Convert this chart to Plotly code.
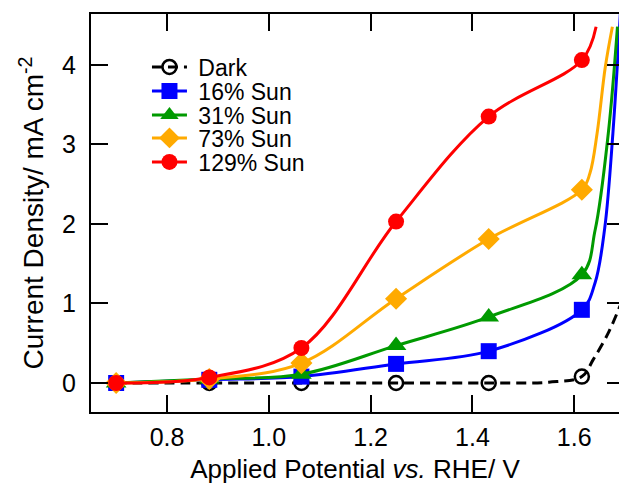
import plotly.graph_objects as go

# ---- data ----
x_pts = [0.700, 0.883, 1.064, 1.250, 1.432, 1.615]
dark_y = [0.0, 0.0, 0.0, 0.0, 0.0, 0.08]
sun16_y = [0.0, 0.04, 0.08, 0.24, 0.40, 0.92]
sun31_y = [0.0, 0.05, 0.11, 0.47, 0.83, 1.36]
sun73_y = [0.0, 0.05, 0.25, 1.06, 1.81, 2.43]
sun129_y = [0.0, 0.07, 0.44, 2.03, 3.35, 4.06]

# extra curve points (no marker)
dark_xx = [1.550, 1.637, 1.667, 1.690]
dark_yy = [0.01, 0.29, 0.63, 0.97]
sun16_xx = [1.641, 1.660, 1.676, 1.692]
sun16_yy = [1.26, 1.95, 3.14, 4.80]
sun31_xx = [1.641, 1.667, 1.685]
sun31_yy = [1.92, 3.14, 4.48]
sun73_xx = [1.631, 1.645, 1.661, 1.675]
sun73_yy = [2.64, 3.14, 3.97, 4.48]
sun129_xx = [1.643]
sun129_yy = [4.48]

names = ["Dark", "16% Sun", "31% Sun", "73% Sun", "129% Sun"]
colors = ["#000000", "#0000FF", "#009A00", "#FFAA00", "#FF0000"]
symbols = ["circle-open", "square", "triangle-up", "diamond", "circle"]
sizes = [14, 16, 18, 17, 16]
series = [
    (dark_y, dark_xx, dark_yy),
    (sun16_y, sun16_xx, sun16_yy),
    (sun31_y, sun31_xx, sun31_yy),
    (sun73_y, sun73_xx, sun73_yy),
    (sun129_y, sun129_xx, sun129_yy),
]

FONT = "Liberation Sans, Arial, Helvetica, sans-serif"

fig = go.Figure()
legend_centers = [67, 91, 115, 138, 162]  # px from top of page
plot_top, plot_bottom = 14, 412

for i, (ys, xx, yy) in enumerate(series):
    pts = [(x, y, True) for x, y in zip(x_pts, ys)] + [(x, y, False) for x, y in zip(xx, yy)]
    pts.sort(key=lambda p: p[0])
    X = [p[0] for p in pts]
    Y = [p[1] for p in pts]
    mc = [colors[i] if p[2] else "rgba(0,0,0,0)" for p in pts]
    fig.add_trace(go.Scatter(
        x=X, y=Y, mode="lines+markers", name="\u00a0" + names[i],
        line=dict(color=colors[i], width=3, shape="spline", smoothing=1.0,
                  dash="10px,6px" if i == 0 else "solid"),
        marker=dict(symbol=symbols[i], size=sizes[i], color=mc,
                    line=dict(width=2.5 if i == 0 else 0, color=mc)),
        legend="legend" if i == 0 else f"legend{i+1}",
        cliponaxis=True,
    ))

# invisible trace for right-side mirrored y ticks
fig.add_trace(go.Scatter(x=[0.7], y=[0], yaxis="y2", showlegend=False,
                         mode="markers", marker=dict(opacity=0)))

layout_legends = {}
for i in range(5):
    key = "legend" if i == 0 else f"legend{i+1}"
    layout_legends[key] = dict(
        x=0.106, xanchor="left",
        y=(plot_bottom - legend_centers[i]) / (plot_bottom - plot_top), yanchor="middle",
        bgcolor="rgba(0,0,0,0)", borderwidth=0,
        font=dict(family=FONT, size=23, color="black"),
        itemwidth=35,
    )

tick_font = dict(family=FONT, size=25, color="black")
fig.update_layout(
    width=619, height=484,
    margin=dict(l=91, r=0, t=14, b=72, autoexpand=False),
    paper_bgcolor="white", plot_bgcolor="white",
    xaxis=dict(
        range=[0.6506, 1.688], tickvals=[0.8, 1.0, 1.2, 1.4, 1.6],
        ticktext=["0.8", "1.0", "1.2", "1.4", "1.6"],
        ticks="inside", ticklen=17, tickwidth=2, tickcolor="black",
        showline=True, linewidth=2, linecolor="black", mirror="ticks",
        showgrid=False, zeroline=False, tickfont=tick_font, ticklabelstandoff=2,
        automargin=False,
        title=dict(text="Applied Potential <i>vs.</i> RHE/ V",
                   font=dict(family=FONT, size=26, color="black"), standoff=26),
    ),
    yaxis=dict(
        range=[-0.365, 4.64], tickvals=[0, 1, 2, 3, 4],
        ticks="inside", ticklen=17, tickwidth=2, tickcolor="black",
        showline=True, linewidth=2, linecolor="black", mirror=False,
        showgrid=False, zeroline=False, tickfont=tick_font, ticklabelstandoff=8,
        automargin=False,
        title=dict(text="Current Density/ mA cm<sup>-2</sup>",
                   font=dict(family=FONT, size=28, color="black"), standoff=10),
    ),
    yaxis2=dict(
        overlaying="y", side="right", range=[-0.365, 4.64],
        tickvals=[0, 1, 2, 3, 4], ticks="inside", ticklen=12, tickwidth=2,
        tickcolor="black", showline=False, showgrid=False, zeroline=False,
        showticklabels=False, automargin=False,
    ),
    **layout_legends,
)

# remove the default 8px page margin so the 619x484 figure fills the window
fig.write_html("out.html", config={"displayModeBar": False},
               post_script="document.body.style.margin='0';")
